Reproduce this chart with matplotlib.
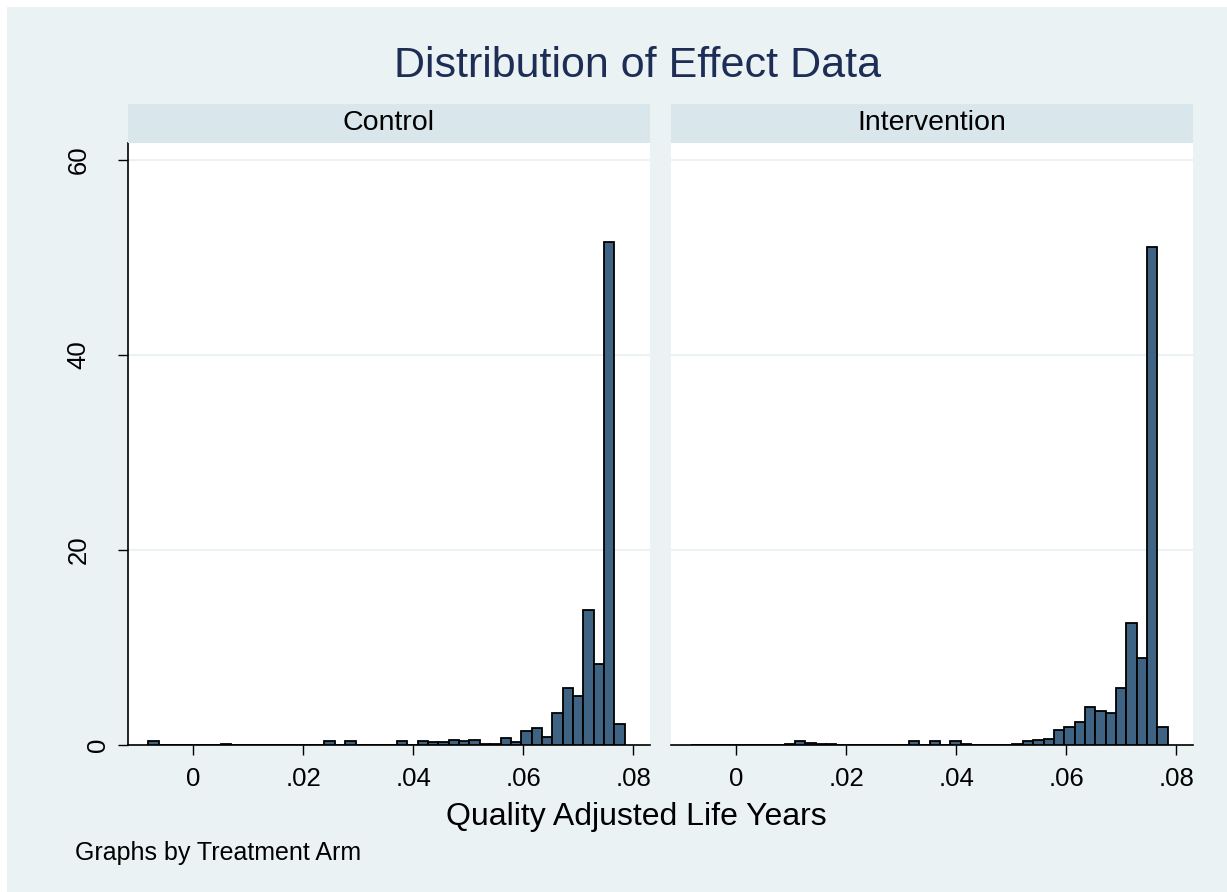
import matplotlib
matplotlib.use("Agg")
import matplotlib.pyplot as plt
from matplotlib.patches import Rectangle
from matplotlib.ticker import FuncFormatter
from matplotlib.transforms import ScaledTranslation

plt.rcParams['font.family'] = ['Liberation Sans', 'DejaVu Sans']

# histogram bins shared by both arms (density scale)
bin_start = -0.0082
bin_width = 0.001883
n_bins = 46

control = [0.38, 0.05, 0.05, 0.05, 0.05, 0.05, 0, 0.12, 0, 0,
           0, 0, 0, 0, 0, 0, 0, 0.38, 0.05, 0.38,
           0.05, 0.05, 0.05, 0.05, 0.45, 0.05, 0.41, 0.3, 0.3, 0.5,
           0.38, 0.5, 0.15, 0.15, 0.72, 0.27, 1.47, 1.7, 0.85, 3.3,
           5.8, 5.0, 13.85, 8.35, 51.6, 2.15]
intervention = [0, 0, 0, 0, 0, 0, 0, 0, 0, 0.08,
                0.45, 0.2, 0.08, 0.08, 0, 0, 0, 0, 0, 0,
                0, 0.4, 0.05, 0.42, 0.05, 0.4, 0.1, 0, 0, 0,
                0.05, 0.08, 0.41, 0.51, 0.65, 1.57, 1.81, 2.32, 3.93, 3.45,
                3.32, 5.85, 12.48, 8.9, 51.1, 1.81]

panels = ["Control", "Intervention"]
xticks = [0, 0.02, 0.04, 0.06, 0.08]
yticks = [0, 20, 40, 60]

bg = "#EAF2F3"
strip = "#D9E6EB"
barcol = "#3F6383"
W, H = 1227, 892

fig = plt.figure(figsize=(W / 100, H / 100), dpi=100)
fig.patch.set_facecolor("white")
fig.patches.append(Rectangle((7 / W, 0), 1, 1 - 7 / H, transform=fig.transFigure,
                             facecolor=bg, edgecolor="none", zorder=-10))

lefts = [128, 671]
edges = [bin_start + i * bin_width for i in range(n_bins)]

for k, (name, vals) in enumerate(zip(panels, [control, intervention])):
    x0 = lefts[k] / W
    w = 522 / W
    ax = fig.add_axes((x0, 1 - 745 / H, w, (745 - 143) / H))
    ax.set_facecolor("white")
    ax.bar(edges, vals, width=bin_width, align="edge", color=barcol,
           edgecolor="black", linewidth=1.3, zorder=3)
    ax.set_xlim(-0.0119, 0.0830)
    ax.set_ylim(0, 61.74)
    ax.set_yticks(yticks)
    ax.set_xticks(xticks)
    ax.xaxis.set_major_formatter(FuncFormatter(lambda v, p: "0" if v == 0 else ("%.2f" % v).lstrip("0")))
    ax.grid(axis="y", color=bg, linewidth=1.5, zorder=0)
    ax.tick_params(axis="both", direction="out", length=7, width=1, labelsize=18.5, colors="black")
    ax.tick_params(axis="x", pad=9)
    for s in ["top", "right"]:
        ax.spines[s].set_visible(False)
    ax.spines["bottom"].set_linewidth(1.2)
    if k == 0:
        ax.spines["left"].set_linewidth(1.2)
        ax.tick_params(axis="y", pad=20)
        for lab in ax.get_yticklabels():
            lab.set_rotation(90)
            lab.set_va("center")
        # Stata puts the single-digit label nearer the axis
        zero_lab = ax.yaxis.get_major_ticks()[0].label1
        zero_lab.set_transform(zero_lab.get_transform() + ScaledTranslation(20 / 100, 0, fig.dpi_scale_trans))
    else:
        ax.spines["left"].set_visible(False)
        ax.tick_params(axis="y", left=False, labelleft=False)

    # panel strip
    fig.patches.append(Rectangle((x0, 1 - 143 / H), w, (143 - 104) / H,
                                 transform=fig.transFigure, facecolor=strip,
                                 edgecolor="none"))
    fig.text(x0 + w / 2, 1 - 123 / H, name, ha="center", va="center", fontsize=20.5)

fig.text(638 / W, 1 - 66 / H, "Distribution of Effect Data", ha="center", va="center",
         fontsize=31, color="#1E2D55")
fig.text(636 / W, 1 - 817 / H, "Quality Adjusted Life Years", ha="center", va="center",
         fontsize=23)
fig.text(75 / W, 1 - 853 / H, "Graphs by Treatment Arm", ha="left", va="center",
         fontsize=18)

fig.savefig("out.png", dpi=100)
